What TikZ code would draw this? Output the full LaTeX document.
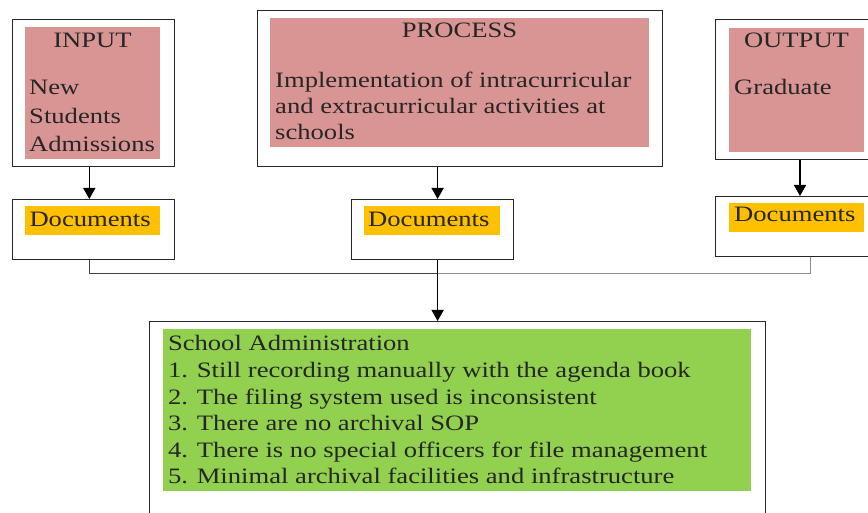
\documentclass[tikz,border=0pt]{standalone}
\usepackage{fontspec}
\setmainfont{Liberation Serif}[FakeStretch=1.21]
\usetikzlibrary{arrows.meta}
\definecolor{pinkfill}{HTML}{D99594}
\definecolor{docyellow}{HTML}{FFC000}
\definecolor{admingreen}{HTML}{92D050}
\tikzset{
  frame/.style={draw=black!85, line width=1pt, anchor=north west, inner sep=0pt},
  tint/.style={anchor=north west, inner sep=0pt},
  txt/.style={anchor=base west, inner sep=0pt, text=black!85, font=\fontsize{22}{26}\selectfont},
  flow/.style={line width=1.5pt, -{Triangle[length=11pt,width=12pt]}},
  link/.style={line width=1pt}
}

\begin{document}
\begin{tikzpicture}[x=1pt,y=-1pt]
			%%%%% START %%%%%
			\clip (0,0) rectangle (868,513);
			
			% input
			\node[frame, minimum width=162pt, minimum height=147pt] (inbox) at (12,19) {};
			\node[tint, fill=pinkfill, minimum width=135pt, minimum height=132pt] (infill) at (25,27) {};
			\node[txt, anchor=base] (intitle) at (92.5,47.5) {INPUT};
			\node[txt] (innew) at (29,95) {New};
			\node[txt] (instud) at (29,123.3) {Students};
			\node[txt] (inadm) at (29,151.7) {Admissions};
			
			% process
			\node[frame, minimum width=405pt, minimum height=156pt] (procbox) at (257,10) {};
			\node[tint, fill=pinkfill, minimum width=379pt, minimum height=129pt] (procfill) at (270,18) {};
			\node[txt, anchor=base] (proctitle) at (459.5,37.7) {PROCESS};
			\node[txt] (procline1) at (275,87.3) {Implementation of intracurricular};
			\node[txt] (procline2) at (275,113.3) {and extracurricular activities at};
			\node[txt] (procline3) at (275,139.3) {schools};
			
			% output
			\node[frame, minimum width=170pt, minimum height=140pt] (outbox) at (715,19) {};
			\node[tint, fill=pinkfill, minimum width=135pt, minimum height=124pt] (outfill) at (729,27.5) {};
			\node[txt, anchor=base] (outtitle) at (796.5,47.7) {OUTPUT};
			\node[txt] (outgrad) at (734,95) {Graduate};
			
			% documents
			\node[frame, minimum width=162pt, minimum height=60pt] (doca) at (12,199) {};
			\node[tint, fill=docyellow, minimum width=135pt, minimum height=29pt] (docafill) at (25,206) {};
			\node[txt] (docatext) at (29.3,226.7) {Documents};
			
			\node[frame, minimum width=162pt, minimum height=60pt] (docb) at (351,199) {};
			\node[tint, fill=docyellow, minimum width=135.5pt, minimum height=29pt] (docbfill) at (364,206) {};
			\node[txt] (docbtext) at (368,226.7) {Documents};
			
			\node[frame, minimum width=170pt, minimum height=60pt] (docc) at (715,196) {};
			\node[tint, fill=docyellow, minimum width=135pt, minimum height=29pt] (doccfill) at (729,203) {};
			\node[txt] (docctext) at (734,221.7) {Documents};
			
			% school administration
			\node[frame, minimum width=615.5pt, minimum height=220pt] (admin) at (149,321) {};
			\node[tint, fill=admingreen, minimum width=588pt, minimum height=162pt] (adminfill) at (163,329) {};
			\node[txt] (adminhead) at (167.8,350.7) {School Administration};
			\node[txt] (adminone) at (167.8,377.3) {1. Still recording manually with the agenda book};
			\node[txt] (admintwo) at (167.8,404) {2. The filing system used is inconsistent};
			\node[txt] (adminthree) at (167.8,430.7) {3. There are no archival SOP};
			\node[txt] (adminfour) at (167.8,457) {4. There is no special officers for file management};
			\node[txt] (adminfive) at (167.8,483.5) {5. Minimal archival facilities and infrastructure};
			
			% arrows and links
			\draw[flow] (89.3,0 |- inbox.south) -- (89.3,0 |- doca.north);
			\draw[flow] (437.6,0 |- procbox.south) -- (437.6,0 |- docb.north);
			\draw[flow] (800,0 |- outbox.south) -- (800,0 |- docc.north);
			
			\coordinate (junction) at (437.6,273.3);
			\draw[link, draw=black!75] (89.3,0 |- doca.south) |- (junction);
			\draw[link, draw=black!45] (810,0 |- docc.south) |- (junction);
			\draw[flow] (437.6,0 |- docb.south) -- (437.6,0 |- admin.north);
			
			%%%%% END %%%%%
\end{tikzpicture}
\end{document}
